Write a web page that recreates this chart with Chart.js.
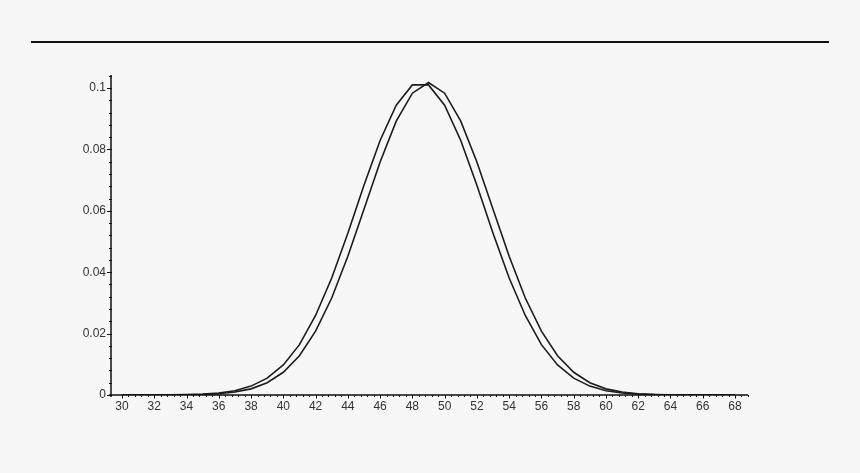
<!DOCTYPE html>
<html>
<head>
<meta charset="utf-8">
<script src="https://cdn.jsdelivr.net/npm/chart.js@4.4.1/dist/chart.umd.min.js"></script>
<style>
  html, body { margin: 0; padding: 0; background: #f7f7f7; }
  #wrap { position: relative; width: 860px; height: 473px; }
  #rule { position: absolute; left: 31px; top: 41px; width: 798px; height: 2px; background: #111; }
  canvas { position: absolute; left: 0; top: 0; }
</style>
</head>
<body>
<div id="wrap">
  <div id="rule"></div>
  <canvas id="c" width="860" height="473"></canvas>
</div>
<script>
// Data
const xValues = [30,31,32,33,34,35,36,37,38,39,40,41,42,43,44,45,46,47,48,49,50,51,52,53,54,55,56,57,58,59,60,61,62,63,64,65,66,67,68];
const seriesA = [0,0,0.00002,0.00004,0.00011,0.00028,0.00065,0.0014,0.0029,0.0055,0.0098,0.0164,0.0259,0.0381,0.0527,0.0683,0.0829,0.0944,0.1010,0.1010,0.0944,0.0829,0.0683,0.0527,0.0381,0.0259,0.0164,0.0098,0.0055,0.0029,0.0014,0.00065,0.00028,0.00011,0.00004,0.00002,0,0,0];
const seriesB = [0,0,0.00001,0.00003,0.00007,0.00018,0.00043,0.00096,0.0020,0.0040,0.0074,0.0128,0.0208,0.0316,0.0452,0.0605,0.0759,0.0892,0.0983,0.1018,0.0983,0.0892,0.0759,0.0605,0.0452,0.0316,0.0208,0.0128,0.0074,0.0040,0.0020,0.00096,0.00043,0.00018,0.00007,0.00003,0.00001,0,0];
const xTickLabels = [30,32,34,36,38,40,42,44,46,48,50,52,54,56,58,60,62,64,66,68];
const yTickLabels = [0,0.02,0.04,0.06,0.08,0.1];

const toPts = (ys) => xValues.map((x, i) => ({x: x, y: ys[i]}));

const axisPlugin = {
  id: 'axisPlugin',
  afterDraw(chart) {
    const ctx = chart.ctx;
    const xs = chart.scales.x, ys = chart.scales.y;
    const a = chart.chartArea;
    ctx.save();
    ctx.strokeStyle = '#111';
    ctx.lineWidth = 1.5;
    ctx.beginPath();
    ctx.moveTo(a.left, a.top);
    ctx.lineTo(a.left, a.bottom + 2);
    ctx.moveTo(a.left - 2, a.bottom);
    ctx.lineTo(a.right, a.bottom);
    ctx.stroke();
    ctx.lineWidth = 1;
    ctx.beginPath();
    // x minor ticks every 0.4
    for (let k = 0; k <= 97; k++) {
      const v = 30 + k * 0.4;
      if (v > xs.max) break;
      const px = Math.round(xs.getPixelForValue(v)) + 0.5;
      ctx.moveTo(px, a.bottom);
      ctx.lineTo(px, a.bottom + 2);
    }
    // x major ticks
    xTickLabels.forEach(v => {
      const px = Math.round(xs.getPixelForValue(v)) + 0.5;
      ctx.moveTo(px, a.bottom);
      ctx.lineTo(px, a.bottom + 3.5);
    });
    // y minor ticks every 0.004
    for (let k = 0; k <= 26; k++) {
      const v = k * 0.004;
      if (v > ys.max) break;
      const py = Math.round(ys.getPixelForValue(v)) + 0.5;
      ctx.moveTo(a.left - 2, py);
      ctx.lineTo(a.left + 1, py);
    }
    yTickLabels.forEach(v => {
      const py = Math.round(ys.getPixelForValue(v)) + 0.5;
      ctx.moveTo(a.left - 4, py);
      ctx.lineTo(a.left, py);
    });
    ctx.stroke();
    ctx.restore();
  }
};

const lineStyle = {
  borderColor: '#1c1c1c',
  borderWidth: 1.6,
  pointRadius: 0,
  fill: false,
  tension: 0
};

new Chart(document.getElementById('c'), {
  type: 'line',
  data: {
    datasets: [
      Object.assign({ label: 'A', data: toPts(seriesA) }, lineStyle),
      Object.assign({ label: 'B', data: toPts(seriesB) }, lineStyle)
    ]
  },
  options: {
    responsive: false,
    animation: false,
    events: [],
    layout: { padding: { left: 0, right: 112, top: 75, bottom: 48 } },
    plugins: { legend: { display: false }, tooltip: { enabled: false } },
    scales: {
      x: {
        type: 'linear',
        min: 29.318,
        max: 68.806,
        afterBuildTicks: (s) => { s.ticks = xTickLabels.map(v => ({value: v})); },
        afterFit: (s) => { s.height = 30; },
        grid: { display: false, drawTicks: false },
        border: { display: false },
        ticks: {
          autoSkip: false,
          maxRotation: 0,
          padding: 4,
          color: '#333',
          font: { family: 'Liberation Sans, Arial, sans-serif', size: 12 },
          callback: (v) => String(v)
        }
      },
      y: {
        type: 'linear',
        min: 0,
        max: 0.10423,
        afterBuildTicks: (s) => { s.ticks = yTickLabels.map(v => ({value: v})); },
        afterFit: (s) => { s.width = 111; },
        grid: { display: false, drawTicks: false },
        border: { display: false },
        ticks: {
          autoSkip: false,
          padding: 5,
          color: '#333',
          font: { family: 'Liberation Sans, Arial, sans-serif', size: 12 },
          callback: (v) => String(v)
        }
      }
    }
  },
  plugins: [axisPlugin]
});
</script>
</body>
</html>
